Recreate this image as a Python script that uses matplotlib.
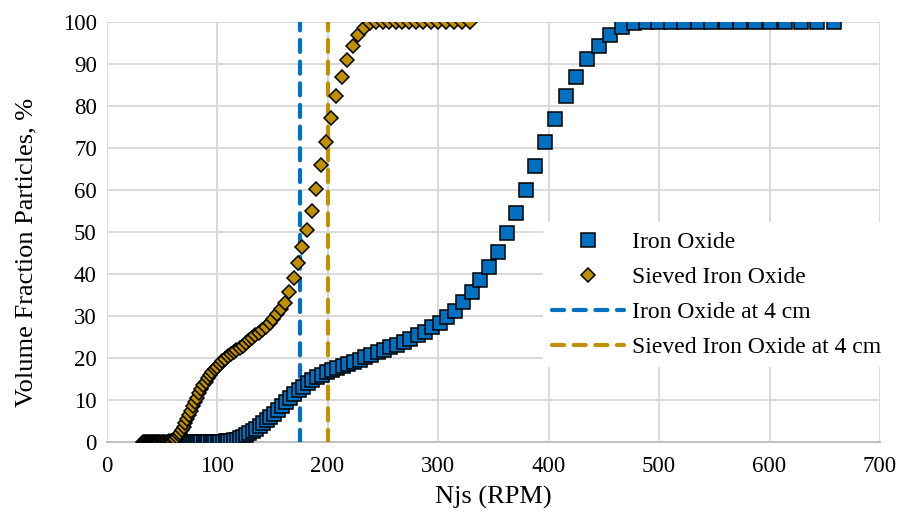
import matplotlib
matplotlib.use("Agg")
import matplotlib.pyplot as plt

plt.rcParams['font.family'] = ['Liberation Serif', 'DejaVu Serif']

# Iron Oxide (blue squares)
iron_x = [
    65.6, 67.1, 68.6, 70.1, 71.7, 73.4, 75.1, 76.8, 78.5, 80.3,
    82.2, 84.1, 85.9, 87.9, 90.0, 92.0, 94.2, 96.3, 98.5, 100.8,
    103.1, 105.4, 107.9, 110.4, 112.9, 115.5, 118.1, 120.9, 123.6, 126.5,
    129.4, 132.4, 135.4, 138.6, 141.7, 145.0, 148.4, 151.8, 155.3, 158.8,
    162.5, 166.3, 170.1, 174.1, 178.1, 182.2, 186.4, 190.7, 195.1, 199.7,
    204.2, 209.0, 213.8, 218.8, 223.8, 229.1, 234.3, 239.8, 245.3, 251.0,
    256.9, 262.8, 268.8, 275.1, 281.5, 288.0, 294.6, 301.5, 308.5, 315.6,
    322.9, 330.4, 338.2, 346.0, 354.0, 362.2, 370.6, 379.2, 388.0, 397.0,
    406.2, 415.6, 425.3, 435.2, 445.3, 455.6, 466.1, 477.0, 488.1, 499.5,
    511.0, 522.9, 535.1, 547.5, 560.2, 573.2, 586.6, 600.2, 614.2, 628.4,
    643.1, 658.0,
]
iron_y = [
    0, 0, 0, 0, 0, 0, 0, 0, 0, 0,
    0, 0, 0, 0, 0, 0, 0, 0, 0, 0,
    0, 0, 0.05, 0.1, 0.2, 0.3, 0.5, 0.8, 1.1, 1.5,
    2.0, 2.5, 3.1, 3.7, 4.4, 5.1, 5.9, 6.7, 7.6, 8.5,
    9.4, 10.3, 11.3, 12.2, 13.1, 13.9, 14.7, 15.3, 15.9, 16.5,
    17.0, 17.5, 18.0, 18.5, 19.0, 19.5, 20.1, 20.7, 21.3, 21.9,
    22.5, 23.1, 23.8, 24.5, 25.3, 26.2, 27.2, 28.3, 29.6, 31.2,
    33.2, 35.6, 38.5, 41.6, 45.2, 49.6, 54.5, 60.0, 65.7, 71.4,
    76.9, 82.2, 86.9, 91.1, 94.3, 96.9, 98.7, 99.7, 100, 100,
    100, 100, 100, 100, 100, 100, 100, 100, 100, 100,
    100, 100,
]

# Sieved Iron Oxide (gold diamonds)
sieved_x = [
    33.4, 34.1, 34.9, 35.7, 36.5, 37.3, 38.2, 39.0, 39.9, 40.8,
    41.8, 42.6, 43.6, 44.6, 45.6, 46.6, 47.7, 48.8, 49.9, 50.9,
    52.1, 53.3, 54.5, 55.8, 57.0, 58.4, 59.7, 61.0, 62.4, 63.8,
    65.3, 66.8, 68.3, 69.8, 71.4, 73.1, 74.8, 76.5, 78.1, 79.9,
    81.8, 83.7, 85.6, 87.5, 89.6, 91.6, 93.8, 95.8, 98.1, 100.3,
    102.6, 104.9, 107.4, 109.9, 112.4, 115.0, 117.6, 120.4, 123.1, 125.9,
    128.9, 131.8, 134.8, 138.0, 141.1, 144.4, 147.8, 151.1, 154.6, 158.2,
    161.8, 165.6, 169.4, 173.3, 177.3, 181.4, 185.6, 189.9, 194.4, 198.8,
    203.4, 208.1, 212.9, 217.9, 222.9, 228.0, 233.3, 238.8, 244.3, 249.9,
    255.7, 261.6, 267.7, 274.0, 280.2, 286.7, 293.4, 300.2, 307.2, 314.3,
    321.5, 329.0,
]
sieved_y = [
    0, 0, 0, 0, 0, 0, 0, 0, 0, 0,
    0, 0, 0, 0, 0, 0, 0, 0, 0, 0,
    0, 0, 0, 0, 0.05, 0.1, 0.2, 0.4, 0.7, 1.1,
    1.5, 2.1, 2.8, 3.6, 4.5, 5.4, 6.4, 7.4, 8.4, 9.5,
    10.5, 11.5, 12.5, 13.4, 14.3, 15.1, 15.9, 16.6, 17.3, 17.9,
    18.6, 19.2, 19.8, 20.3, 20.8, 21.3, 21.8, 22.3, 22.9, 23.5,
    24.1, 24.7, 25.3, 26.0, 26.7, 27.4, 28.3, 29.3, 30.4, 31.6,
    33.0, 35.6, 39.0, 42.5, 46.3, 50.5, 55.0, 60.2, 65.8, 71.4,
    77.0, 82.2, 86.9, 91.0, 94.2, 96.8, 98.5, 99.6, 100, 100,
    100, 100, 100, 100, 100, 100, 100, 100, 100, 100,
    100, 100,
]

vline_labels = ["Iron Oxide at 4 cm", "Sieved Iron Oxide at 4 cm"]
vline_x = [175, 200]

x_ticks = [0, 100, 200, 300, 400, 500, 600, 700]
y_ticks = [0, 10, 20, 30, 40, 50, 60, 70, 80, 90, 100]

BLUE = "#0070C0"
GOLD = "#BF9000"

fig = plt.figure(figsize=(9, 5.16), dpi=100)
ax = fig.add_axes([106.5 / 900, 1 - 441.7 / 516, (880 - 106.5) / 900, (441.7 - 21.7) / 516])

ax.set_xlim(0, 700)
ax.set_ylim(0, 100)
ax.set_xticks(x_ticks)
ax.set_yticks(y_ticks)
ax.grid(True, color="#d9d9d9", linewidth=1.4, zorder=0)
ax.set_axisbelow(True)
for s in ["top", "right", "left"]:
    ax.spines[s].set_visible(False)
ax.spines["bottom"].set_color("#bfbfbf")
ax.spines["bottom"].set_linewidth(1.4)
ax.tick_params(length=0, labelsize=16.5, colors="black")
ax.tick_params(axis="x", pad=10)
ax.tick_params(axis="y", pad=7)

h1, = ax.plot(iron_x, iron_y, linestyle="none", marker="s", markersize=9.4,
              markerfacecolor=BLUE, markeredgecolor="black", markeredgewidth=1.1,
              label="Iron Oxide", zorder=4)
h2, = ax.plot(sieved_x, sieved_y, linestyle="none", marker="D", markersize=7.2,
              markerfacecolor=GOLD, markeredgecolor="black", markeredgewidth=1.1,
              label="Sieved Iron Oxide", zorder=5)
h3 = ax.axvline(vline_x[0], color=BLUE, linewidth=3.0, linestyle=(0, (2.9, 2.3)),
                dash_capstyle="round", label=vline_labels[0], zorder=3)
h4 = ax.axvline(vline_x[1], color=GOLD, linewidth=3.0, linestyle=(0, (2.9, 2.3)),
                dash_capstyle="round", label=vline_labels[1], zorder=3)

ax.set_xlabel("Njs (RPM)", fontsize=19)
ax.set_ylabel("Volume Fraction Particles, %", fontsize=19)
ax.xaxis.set_label_coords(0.5, (441.7 - 486) / 420)
ax.yaxis.set_label_coords((37 - 106.5) / 773.5, (441.7 - 252) / 420)

leg = ax.legend(handles=[h1, h2, h3, h4], loc="upper left",
                bbox_to_anchor=(543 / 900, 1 - 222 / 516), bbox_transform=fig.transFigure,
                frameon=True, fancybox=False, framealpha=1, facecolor="white",
                edgecolor="none", fontsize=17, numpoints=1, handlelength=3.05,
                handletextpad=0.3, labelspacing=0.57, borderaxespad=0, borderpad=0.4)
leg.set_zorder(10)

fig.savefig("out.png", dpi=100)
